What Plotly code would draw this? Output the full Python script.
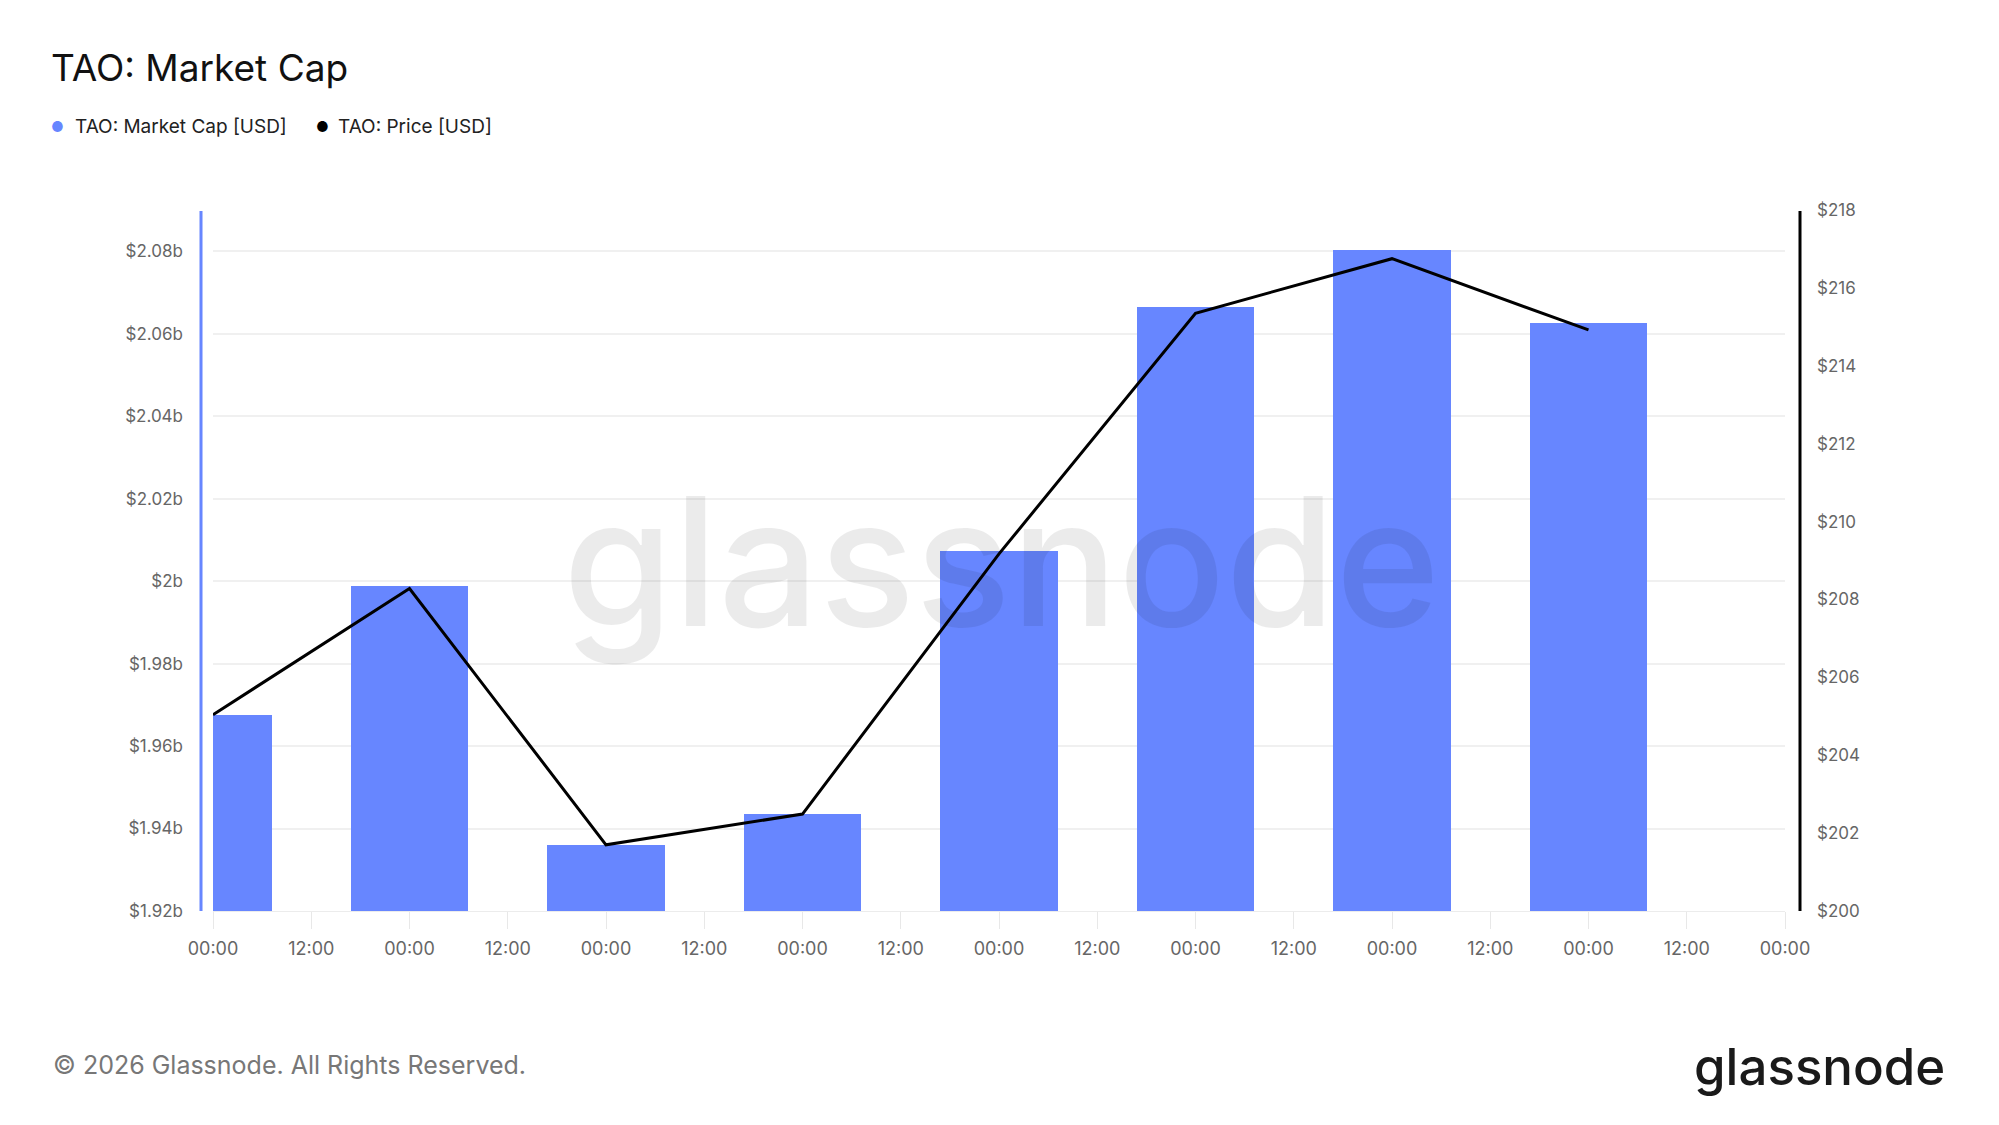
import plotly.graph_objects as go
import pandas as pd

# ---- data ----
dates = ["2026-01-01", "2026-01-02", "2026-01-03", "2026-01-04",
         "2026-01-05", "2026-01-06", "2026-01-07", "2026-01-08"]
market_cap = [1.9676e9, 1.9988e9, 1.9361e9, 1.9435e9,
              2.0074e9, 2.0664e9, 2.0803e9, 2.0627e9]
price = [205.04, 208.28, 201.70, 202.49,
         209.17, 215.35, 216.75, 214.92]
left_ticks = [1.92e9, 1.94e9, 1.96e9, 1.98e9, 2.00e9, 2.02e9, 2.04e9, 2.06e9, 2.08e9]
left_labels = ["$1.92b", "$1.94b", "$1.96b", "$1.98b", "$2b", "$2.02b", "$2.04b", "$2.06b", "$2.08b"]
right_ticks = [200, 202, 204, 206, 208, 210, 212, 214, 216, 218]
right_labels = ["$" + str(v) for v in right_ticks]

W, H = 1999, 1125
L, R, T, B = 213, 1785, 210, 911  # plot area in pixels

def px(x):
    return (x - L) / (R - L)

def py(y):
    return (B - y) / (B - T)

BLUE = "#6786FF"
FONT = "Inter, Roboto, sans-serif"
TICK = dict(family=FONT, size=17, color="#666666")

x_start = pd.Timestamp(dates[0])
x_end = x_start + pd.Timedelta(days=8)

fig = go.Figure()
fig.add_trace(go.Bar(
    x=dates, y=market_cap, marker=dict(color=BLUE, line=dict(width=0)),
    width=0.6 * 86400000, yaxis="y", name="TAO: Market Cap [USD]",
))
fig.add_trace(go.Scatter(
    x=dates, y=price, mode="lines", line=dict(color="#000000", width=3),
    yaxis="y2", name="TAO: Price [USD]",
))

fig.update_layout(
    width=W, height=H, autosize=False,
    margin=dict(l=L, r=W - R, t=T, b=H - B, pad=0),
    paper_bgcolor="white", plot_bgcolor="white",
    showlegend=False, bargap=0,
    title=dict(text="TAO: Market Cap", x=51 / W, xref="container", xanchor="left",
               y=1 - 68 / H, yref="container", yanchor="middle",
               font=dict(family=FONT, size=37, color="#111111")),
    xaxis=dict(type="date", range=[x_start, x_end], dtick=43200000,
               tick0=x_start, tickformat="%H:%M", showgrid=False,
               ticks="outside", ticklen=17, tickcolor="#e8e8e8", tickwidth=1,
               showline=True, linecolor="#ececec", linewidth=1,
               tickfont=dict(family=FONT, size=18, color="#666666"),
               ticklabelstandoff=4, zeroline=False),
    yaxis=dict(range=[1.92e9, 2.09e9], tickvals=left_ticks, ticktext=left_labels,
               showgrid=True, gridcolor="#f0f0f0", gridwidth=1.5, zeroline=False,
               showline=False, tickfont=TICK, ticklabelstandoff=29),
    yaxis2=dict(range=[200, 218], tickvals=right_ticks, ticktext=right_labels,
                overlaying="y", side="right", showgrid=False, zeroline=False,
                showline=False, tickfont=TICK, ticklabelstandoff=31),
)

# axis lines (offset from the plotting area as in the reference)
fig.add_shape(type="line", xref="paper", yref="paper",
              x0=px(201), x1=px(201), y0=py(911), y1=py(211),
              line=dict(color=BLUE, width=3))
fig.add_shape(type="line", xref="paper", yref="paper",
              x0=px(1800), x1=px(1800), y0=py(911), y1=py(211),
              line=dict(color="#000000", width=3))

# legend
legend_items = [
    (57, BLUE, 73, "TAO: Market Cap [USD]"),
    (322, "#000000", 336, "TAO: Price [USD]"),
]
for dot_x, col, text_x, label in legend_items:
    fig.add_annotation(x=px(dot_x), y=py(127), xref="paper", yref="paper",
                       text="●", showarrow=False, xanchor="center", yanchor="middle",
                       font=dict(family=FONT, size=14, color=col))
    fig.add_annotation(x=px(text_x), y=py(127), xref="paper", yref="paper",
                       text=label, showarrow=False, xanchor="left", yanchor="middle",
                       font=dict(family=FONT, size=19, color="#222222"))

# watermark
fig.add_annotation(x=px(1001), y=py(561), xref="paper", yref="paper",
                   text="glassnode", showarrow=False, xanchor="center", yanchor="middle",
                   font=dict(family=FONT, size=178, weight=500, color="rgba(0,0,0,0.08)"))

# footer
fig.add_annotation(x=px(51), y=py(1065), xref="paper", yref="paper",
                   text="© 2026 Glassnode. All Rights Reserved.", showarrow=False,
                   xanchor="left", yanchor="middle",
                   font=dict(family=FONT, size=25, color="#777777"))
fig.add_annotation(x=px(1947), y=py(1066), xref="paper", yref="paper",
                   text="glassnode", showarrow=False, xanchor="right", yanchor="middle",
                   font=dict(family=FONT, size=51, weight=500, color="#1a1a1a"))

fig.write_html("out.html")
